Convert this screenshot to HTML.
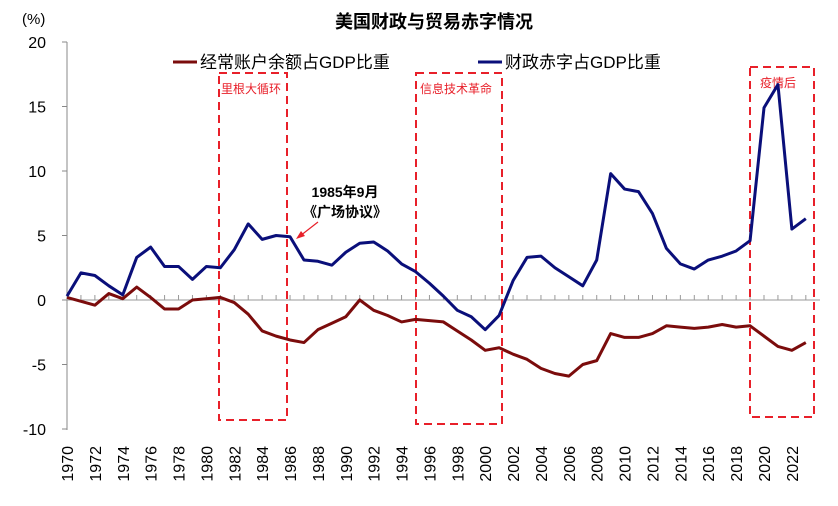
<!DOCTYPE html>
<html><head><meta charset="utf-8"><style>
body{margin:0;background:#fff;font-family:"Liberation Sans","Noto Sans CJK SC",sans-serif}
</style></head><body>
<svg id="c" width="838" height="501" font-family="Liberation Sans, Noto Sans CJK SC, sans-serif"></svg>
<script>
const years=[];for(let y=1970;y<=2023;y++)years.push(y);
const fiscal=[0.3,2.1,1.9,1.1,0.4,3.3,4.1,2.6,2.6,1.6,2.6,2.5,3.9,5.9,4.7,5.0,4.9,3.1,3.0,2.7,3.7,4.4,4.5,3.8,2.8,2.2,1.3,0.3,-0.8,-1.3,-2.3,-1.2,1.5,3.3,3.4,2.5,1.8,1.1,3.1,9.8,8.6,8.4,6.7,4.0,2.8,2.4,3.1,3.4,3.8,4.6,14.9,16.7,5.5,6.3];
const current=[0.2,-0.1,-0.4,0.5,0.1,1.0,0.2,-0.7,-0.7,0.0,0.1,0.2,-0.2,-1.1,-2.4,-2.8,-3.1,-3.3,-2.3,-1.8,-1.3,0.0,-0.8,-1.2,-1.7,-1.5,-1.6,-1.7,-2.4,-3.1,-3.9,-3.7,-4.2,-4.6,-5.3,-5.7,-5.9,-5.0,-4.7,-2.6,-2.9,-2.9,-2.6,-2.0,-2.1,-2.2,-2.1,-1.9,-2.1,-2.0,-2.8,-3.6,-3.9,-3.3];
const yTicks=[20,15,10,5,0,-5,-10];
const x=y=>67+(y-1970)*13.94;
const yv=v=>300-v*12.9;
const s=document.getElementById('c');const NS='http://www.w3.org/2000/svg';
function mk(t,a,txt){const e=document.createElementNS(NS,t);for(const k in a)e.setAttribute(k,a[k]);if(txt!=null)e.textContent=txt;s.appendChild(e);return e;}
let e;
e=mk('text',{x:434,y:28,'text-anchor':'middle','font-size':18,'font-weight':'bold'},'美国财政与贸易赤字情况');

e=mk('text',{x:22,y:24,'font-size':15},'(%)');

e=mk('line',{x1:67,y1:42,x2:67,y2:430,stroke:'#888'});

yTicks.forEach(t=>{
 e=mk('line',{x1:62,x2:67,y1:yv(t),y2:yv(t),stroke:'#888'});
 
 e=mk('text',{x:46,y:yv(t)+6,'text-anchor':'end','font-size':16},String(t));
 
});
e=mk('line',{x1:67,x2:820,y1:yv(0),y2:yv(0),stroke:'#999'});

years.forEach(y=>{
 e=mk('line',{x1:x(y),x2:x(y),y1:yv(0)-5,y2:yv(0),stroke:'#999'});
 
 if((y-1970)%2===0){
  e=mk('text',{x:0,y:0,'font-size':16,'text-anchor':'end',transform:`translate(${x(y)+6},446) rotate(-90)`},String(y));
  
 }
});
const boxes=[[219,73,287,420,'里根大循环',221],[416,73,502,424,'信息技术革命',420],[750,67,814,417,'疫情后',760]];
boxes.forEach(b=>{
 e=mk('rect',{x:b[0],y:b[1],width:b[2]-b[0],height:b[3]-b[1],fill:'none',stroke:'#e8202a','stroke-width':2,'stroke-dasharray':'8,5'});
 
 e=mk('text',{x:b[5],y:b[1]+20,'font-size':12,fill:'#e8202a'},b[4]);
 
});
function line(arr,col,name){
 e=mk('polyline',{points:arr.map((v,i)=>x(years[i])+','+yv(v)).join(' '),fill:'none',stroke:col,'stroke-width':3,'stroke-linejoin':'round'});
 
}
line(current,'#7b0c0c','current-account-line');
line(fiscal,'#0a0f7a','fiscal-deficit-line');
e=mk('line',{x1:173,x2:197,y1:62,y2:62,stroke:'#7b0c0c','stroke-width':3});

e=mk('text',{x:200,y:68,'font-size':17},'经常账户余额占GDP比重');

e=mk('line',{x1:478,x2:502,y1:62,y2:62,stroke:'#0a0f7a','stroke-width':3});

e=mk('text',{x:505,y:68,'font-size':17},'财政赤字占GDP比重');

e=mk('text',{x:345,y:197,'font-size':14,'font-weight':'bold','text-anchor':'middle'},'1985年9月');

e=mk('text',{x:345,y:217,'font-size':14,'font-weight':'bold','text-anchor':'middle'},'《广场协议》');

e=mk('line',{x1:318,y1:222,x2:300,y2:236,stroke:'#e8202a','stroke-width':1.2});

e=mk('polygon',{points:'296,239 301,231 305,236',fill:'#e8202a'});

</script>
</body></html>
